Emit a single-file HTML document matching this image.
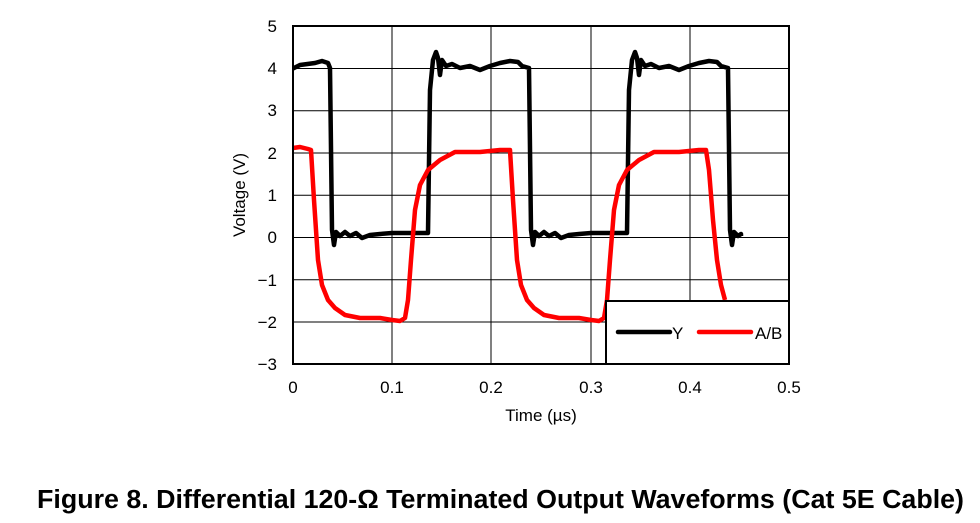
<!DOCTYPE html><html><head><meta charset="utf-8"><style>
body{margin:0;background:#fff;width:980px;height:523px;overflow:hidden}
svg{display:block}
text{font-family:"Liberation Sans",Arial,sans-serif;fill:#000}
</style></head><body>
<svg id="s" width="980" height="523" viewBox="0 0 980 523">
<g stroke="#000" stroke-width="1">
<line x1="392" y1="26" x2="392" y2="364"/><line x1="491" y1="26" x2="491" y2="364"/><line x1="591" y1="26" x2="591" y2="364"/><line x1="690" y1="26" x2="690" y2="364"/>
<line x1="293" y1="68.5" x2="789" y2="68.5"/><line x1="293" y1="110.8" x2="789" y2="110.8"/><line x1="293" y1="153" x2="789" y2="153"/><line x1="293" y1="195.3" x2="789" y2="195.3"/><line x1="293" y1="237.5" x2="789" y2="237.5"/><line x1="293" y1="279.8" x2="789" y2="279.8"/><line x1="293" y1="322" x2="789" y2="322"/>
</g>
<path id="blk" fill="none" stroke="#000" stroke-width="4.5" stroke-linejoin="round"/>
<path id="red" fill="none" stroke="#f00" stroke-width="4.5" stroke-linejoin="round"/>
<rect x="293" y="26" width="496" height="338" fill="none" stroke="#000" stroke-width="2"/>
<rect x="606" y="301" width="183" height="63" fill="#fff" stroke="#000" stroke-width="2"/>
<line x1="618" y1="332" x2="670" y2="332" stroke="#000" stroke-width="4.5" stroke-linecap="round"/>
<text x="672" y="339" font-size="17">Y</text>
<line x1="699" y1="332" x2="751" y2="332" stroke="#f00" stroke-width="4.5" stroke-linecap="round"/>
<text x="755" y="339" font-size="17">A/B</text>
<g font-size="17" text-anchor="end">
<text x="277" y="32">5</text><text x="277" y="74">4</text><text x="277" y="116">3</text><text x="277" y="159">2</text><text x="277" y="201">1</text><text x="277" y="243">0</text><text x="277" y="286">−1</text><text x="277" y="328">−2</text><text x="277" y="370">−3</text>
</g>
<g font-size="17" text-anchor="middle">
<text x="293" y="393">0</text><text x="392" y="393">0.1</text><text x="491" y="393">0.2</text><text x="591" y="393">0.3</text><text x="690" y="393">0.4</text><text x="789" y="393">0.5</text>
<text x="541" y="421">Time (µs)</text>
</g>
<text transform="translate(245,195) rotate(-90)" font-size="17" text-anchor="middle">Voltage (V)</text>
<text x="37" y="508" font-size="25.5" font-weight="bold" textLength="927" lengthAdjust="spacingAndGlyphs">Figure 8. Differential 120-Ω Terminated Output Waveforms (Cat 5E Cable)</text>
</svg>
<script>
var b=[[293,68.5],[300,65],[315,63],[322,61],[328,63],[330,68]],
bp=[[332,230],[334,245],[336,232],[340,236],[345,232],[350,236],[356,233],[362,238],[370,235],[380,234],[392,233],[410,233],[428,233],[430,90],[433,60],[436,52],[438,58],[440,75],[442,60],[446,66],[452,64],[460,68],[470,66],[480,70],[490,66],[500,63],[510,61],[518,62],[522,66],[529,68]];
var pts=b.slice();
for(var k=0;k<2;k++)bp.forEach(function(p){pts.push([p[0]+199*k,p[1]]);});
[[531,230],[533,245],[535,232],[539,236],[542,234]].forEach(function(p){pts.push([p[0]+199,p[1]]);});
pts.push([741,236]);
var rp=[[311,150],[314,200],[318,260],[322,285],[328,300],[335,308],[345,315],[360,318],[380,318],[392,320],[400,321],[405,318],[408,300],[411,260],[415,210],[420,185],[428,170],[440,160],[455,152],[480,152],[500,150],[507,150]];
var r=[[293,148],[300,147],[308,149]];
for(k=0;k<2;k++)rp.forEach(function(p){r.push([p[0]+199*k,p[1]]);});
[[510,170],[514,220],[518,260],[522,285],[526,300]].forEach(function(p){r.push([p[0]+199,p[1]]);});
function d(a){return "M"+a.map(function(p){return p[0]+","+p[1]}).join("L");}
document.getElementById("blk").setAttribute("d",d(pts));
document.getElementById("red").setAttribute("d",d(r));
</script>
</body></html>
